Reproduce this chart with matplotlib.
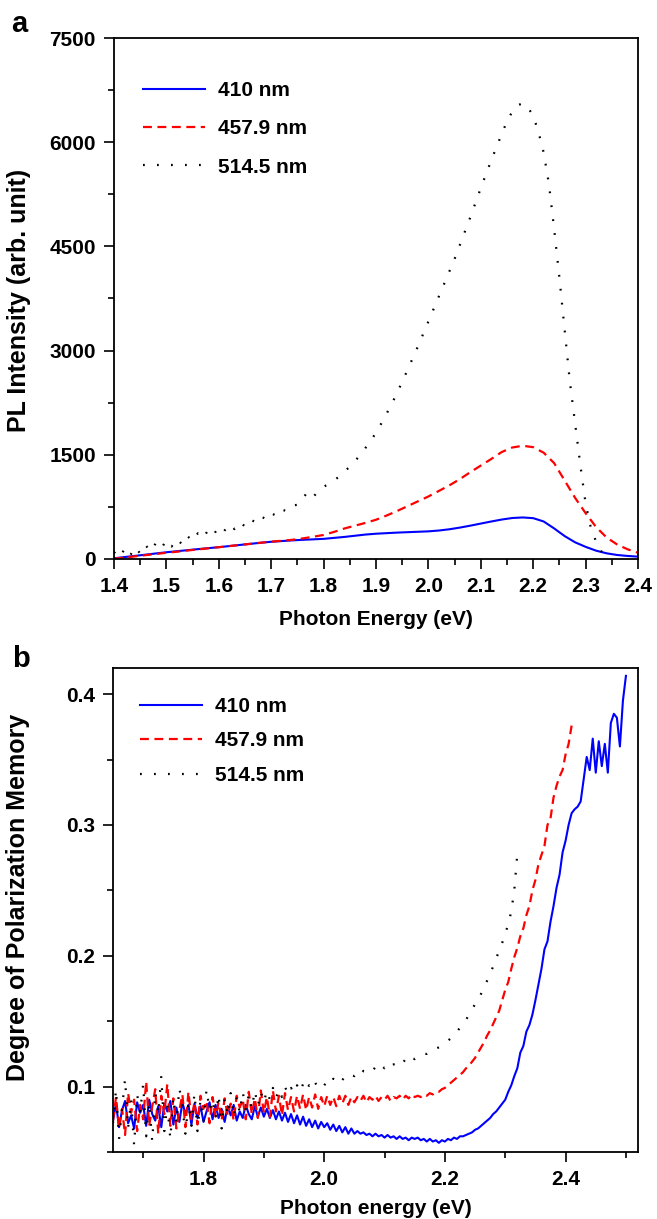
import numpy as np
import matplotlib
matplotlib.use('Agg')
import matplotlib.pyplot as plt
from matplotlib.ticker import MultipleLocator, FormatStrFormatter

# ---------------- panel a : PL spectra ----------------
# energy grid (eV) for the smooth curves, step 0.02 from 1.40
a_start = 1.40
a_step_smooth = 0.02
a_step_black = 0.01

pl_410 = [10, 28, 45, 62, 80, 97, 112, 127, 142, 156,
          170, 186, 202, 218, 234, 248, 258, 268, 276, 283,
          290, 304, 318, 335, 352, 364, 372, 380, 386, 392,
          398, 410, 428, 452, 480, 510, 540, 568, 590, 598,
          588, 540, 440, 330, 240, 175, 120, 82, 58, 44, 34]

pl_457 = [5, 20, 38, 55, 72, 90, 105, 122, 138, 154,
          170, 186, 202, 218, 234, 250, 262, 276, 296, 320,
          346, 390, 440, 480, 520, 565, 625, 690, 760, 830,
          900, 980, 1060, 1150, 1250, 1345, 1440, 1540, 1605, 1630,
          1610, 1530, 1380, 1130, 880, 660, 460, 310, 210, 140, 90]

# 514.5 nm sampled every 0.01 eV from 1.40 to 2.34
pl_514 = [100, 20, 140, 40, 170, 80, 200, 110, 230, 150,
          270, 180, 290, 210, 330, 260, 370, 300, 420, 350,
          460, 400, 500, 430, 530, 470, 570, 530, 620, 570,
          660, 620, 710, 690, 770, 780, 880, 960, 890, 980,
          1040, 1080, 1130, 1190, 1260, 1330, 1410, 1500, 1600, 1700,
          1820, 1950, 2090, 2230, 2390, 2550, 2720, 2890, 3060, 3240,
          3420, 3600, 3780, 3960, 4140, 4320, 4520, 4720, 4920, 5130,
          5340, 5540, 5740, 5930, 6120, 6300, 6440, 6530, 6560, 6500,
          6380, 6150, 5850, 5400, 4750, 4050, 3300, 2550, 1950, 1350,
          800, 450, 250, 110, 40]

# ---------------- panel b : degree of polarization memory ----------------
b_start = 1.65
b_step = 0.005

dpm_410 = [0.074, 0.087, 0.069, 0.082, 0.089, 0.072, 0.078, 0.068, 0.088, 0.080,
           0.086, 0.070, 0.090, 0.079, 0.074, 0.085, 0.069, 0.087, 0.081, 0.089,
           0.071, 0.084, 0.073, 0.088, 0.079, 0.086, 0.071, 0.087, 0.076, 0.085,
           0.073, 0.081, 0.088, 0.075, 0.086, 0.076, 0.083, 0.073, 0.085, 0.078,
           0.086, 0.074, 0.081, 0.076, 0.086, 0.079, 0.075, 0.085, 0.077, 0.084,
           0.077, 0.083, 0.076, 0.082, 0.075, 0.081, 0.074, 0.080, 0.073, 0.079,
           0.072, 0.078, 0.071, 0.077, 0.070, 0.075, 0.069, 0.074, 0.068, 0.073,
           0.069, 0.072, 0.067, 0.071, 0.066, 0.070, 0.065, 0.069, 0.064, 0.068,
           0.064, 0.066, 0.064, 0.065, 0.063, 0.064, 0.062, 0.064, 0.062, 0.063,
           0.061, 0.063, 0.061, 0.062, 0.060, 0.062, 0.060, 0.061, 0.059, 0.061,
           0.060, 0.061, 0.059, 0.060, 0.058, 0.060, 0.058, 0.059, 0.057, 0.059,
           0.058, 0.060, 0.059, 0.061, 0.060, 0.062, 0.062, 0.063, 0.064, 0.065,
           0.067, 0.068, 0.070, 0.072, 0.074, 0.076, 0.079, 0.081, 0.084, 0.087,
           0.090, 0.096, 0.101, 0.108, 0.114, 0.126, 0.131, 0.142, 0.147, 0.155,
           0.166, 0.178, 0.190, 0.205, 0.211, 0.226, 0.238, 0.252, 0.262, 0.279,
           0.288, 0.300, 0.309, 0.312, 0.314, 0.318, 0.335, 0.352, 0.342, 0.366,
           0.340, 0.364, 0.345, 0.362, 0.340, 0.378, 0.385, 0.382, 0.360, 0.395,
           0.414]

dpm_457 = [0.074, 0.092, 0.068, 0.083, 0.063, 0.095, 0.080, 0.090, 0.066, 0.086,
           0.075, 0.104, 0.070, 0.085, 0.098, 0.064, 0.093, 0.079, 0.102, 0.070,
           0.091, 0.068, 0.082, 0.094, 0.069, 0.096, 0.075, 0.088, 0.071, 0.093,
           0.083, 0.089, 0.072, 0.092, 0.077, 0.088, 0.074, 0.091, 0.078, 0.087,
           0.074, 0.093, 0.084, 0.090, 0.075, 0.096, 0.079, 0.091, 0.076, 0.097,
           0.080, 0.092, 0.077, 0.097, 0.081, 0.093, 0.078, 0.095, 0.082, 0.092,
           0.081, 0.093, 0.083, 0.094, 0.082, 0.092, 0.084, 0.094, 0.083, 0.092,
           0.085, 0.093, 0.086, 0.092, 0.085, 0.093, 0.087, 0.093, 0.086, 0.092,
           0.088, 0.092, 0.089, 0.093, 0.088, 0.092, 0.090, 0.093, 0.089, 0.092,
           0.090, 0.093, 0.089, 0.092, 0.091, 0.093, 0.090, 0.093, 0.091, 0.094,
           0.092, 0.093, 0.092, 0.094, 0.093, 0.095, 0.094, 0.096, 0.096, 0.098,
           0.099, 0.101, 0.103, 0.105, 0.107, 0.109, 0.111, 0.114, 0.116, 0.119,
           0.122, 0.126, 0.130, 0.134, 0.139, 0.143, 0.148, 0.153, 0.158, 0.166,
           0.174, 0.180, 0.190, 0.199, 0.206, 0.215, 0.221, 0.231, 0.238, 0.250,
           0.258, 0.270, 0.277, 0.284, 0.300, 0.305, 0.321, 0.330, 0.337, 0.342,
           0.354, 0.362, 0.376]

dpm_514 = [0.072, 0.098, 0.060, 0.083, 0.106, 0.068, 0.090, 0.055, 0.094, 0.080,
           0.102, 0.062, 0.088, 0.058, 0.096, 0.079, 0.108, 0.066, 0.086, 0.060,
           0.092, 0.072, 0.099, 0.084, 0.064, 0.088, 0.070, 0.095, 0.066, 0.090,
           0.073, 0.098, 0.082, 0.090, 0.076, 0.094, 0.068, 0.091, 0.078, 0.095,
           0.077, 0.092, 0.080, 0.096, 0.082, 0.094, 0.083, 0.097, 0.085, 0.096,
           0.088, 0.097, 0.090, 0.099, 0.091, 0.098, 0.092, 0.100, 0.094, 0.099,
           0.095, 0.101, 0.096, 0.102, 0.097, 0.101, 0.098, 0.103, 0.099, 0.102,
           0.101, 0.104, 0.102, 0.106, 0.104, 0.107, 0.105, 0.108, 0.107, 0.109,
           0.108, 0.111, 0.109, 0.112, 0.111, 0.113, 0.112, 0.115, 0.113, 0.116,
           0.114, 0.117, 0.115, 0.117, 0.116, 0.119, 0.118, 0.121, 0.119, 0.122,
           0.121, 0.123, 0.123, 0.125, 0.125, 0.127, 0.127, 0.129, 0.130, 0.131,
           0.133, 0.135, 0.137, 0.139, 0.142, 0.145, 0.148, 0.151, 0.155, 0.159,
           0.163, 0.166, 0.171, 0.176, 0.181, 0.186, 0.192, 0.198, 0.204, 0.210,
           0.217, 0.224, 0.234, 0.250, 0.278]

labels = ['410 nm', '457.9 nm', '514.5 nm']
colors = ['#0000ff', '#ff0000', 'black']


def grid(start, step, n):
    # sampling grid of the spectrometer
    return np.round(start + step * np.arange(n), 3)


def style_axes(ax):
    for s in ax.spines.values():
        s.set_linewidth(1.3)
    ax.tick_params(which='both', direction='out', top=False, right=False,
                   width=1.2, labelsize=15, pad=6)
    ax.tick_params(which='major', length=7)
    ax.tick_params(which='minor', length=4)


def draw_lines(ax, xs, ys):
    # solid / dashed / dotted like the original
    ax.plot(xs[0], ys[0], color=colors[0], lw=1.5, label=labels[0])
    ax.plot(xs[1], ys[1], color=colors[1], lw=1.6, dashes=(4, 2.5), label=labels[1])
    ax.plot(xs[2], ys[2], color=colors[2], lw=1.6, dashes=(0.8, 5.5), label=labels[2])


def main():
    plt.rcParams['font.family'] = ['Liberation Sans', 'DejaVu Sans']
    plt.rcParams['font.weight'] = 'bold'

    fig = plt.figure(figsize=(6.57, 12.19), dpi=100)

    # panel a
    ax1 = fig.add_axes([114 / 657, 1 - 559 / 1219, 524 / 657, 521 / 1219])
    draw_lines(ax1,
               [grid(a_start, a_step_smooth, len(pl_410)),
                grid(a_start, a_step_smooth, len(pl_457)),
                grid(a_start, a_step_black, len(pl_514))],
               [pl_410, pl_457, pl_514])
    ax1.set_xlim(1.4, 2.4)
    ax1.set_ylim(0, 7500)
    ax1.xaxis.set_major_locator(MultipleLocator(0.1))
    ax1.xaxis.set_minor_locator(MultipleLocator(0.05))
    ax1.xaxis.set_major_formatter(FormatStrFormatter('%.1f'))
    ax1.yaxis.set_major_locator(MultipleLocator(1500))
    ax1.yaxis.set_minor_locator(MultipleLocator(750))
    style_axes(ax1)
    ax1.set_xlabel('Photon Energy (eV)', fontsize=15, fontweight='bold')
    ax1.set_ylabel('PL Intensity (arb. unit)', fontsize=18, fontweight='bold')
    ax1.xaxis.set_label_coords(0.5, -0.098)
    ax1.yaxis.set_label_coords(-0.159, 0.497)
    ax1.legend(loc='upper left', bbox_to_anchor=(0.055, 0.917), frameon=False,
               fontsize=15, handlelength=3.0, handletextpad=0.6,
               labelspacing=0.92, borderpad=0, borderaxespad=0)

    # panel b
    ax2 = fig.add_axes([113 / 657, 1 - 1152 / 1219, 525 / 657, 484 / 1219])
    draw_lines(ax2,
               [grid(b_start, b_step, len(dpm_410)),
                grid(b_start, b_step, len(dpm_457)),
                grid(b_start, b_step, len(dpm_514))],
               [dpm_410, dpm_457, dpm_514])
    ax2.set_xlim(1.65, 2.52)
    ax2.set_ylim(0.05, 0.42)
    ax2.xaxis.set_major_locator(MultipleLocator(0.2))
    ax2.xaxis.set_minor_locator(MultipleLocator(0.1))
    ax2.xaxis.set_major_formatter(FormatStrFormatter('%.1f'))
    ax2.yaxis.set_major_locator(MultipleLocator(0.1))
    ax2.yaxis.set_minor_locator(MultipleLocator(0.05))
    ax2.yaxis.set_major_formatter(FormatStrFormatter('%.1f'))
    style_axes(ax2)
    ax2.set_xlabel('Photon energy (eV)', fontsize=15, fontweight='bold')
    ax2.set_ylabel('Degree of Polarization Memory', fontsize=18, fontweight='bold')
    ax2.xaxis.set_label_coords(0.5, -0.097)
    ax2.yaxis.set_label_coords(-0.159, 0.527)
    ax2.legend(loc='upper left', bbox_to_anchor=(0.051, 0.94), frameon=False,
               fontsize=15, handlelength=3.0, handletextpad=0.6,
               labelspacing=0.74, borderpad=0, borderaxespad=0)

    # panel letters
    fig.text(11 / 657, 1 - 32 / 1219, 'a', fontsize=21, fontweight='bold',
             ha='left', va='baseline')
    fig.text(12 / 657, 1 - 667 / 1219, 'b', fontsize=21, fontweight='bold',
             ha='left', va='baseline')

    fig.savefig('out.png', dpi=100)


if __name__ == '__main__':
    main()
